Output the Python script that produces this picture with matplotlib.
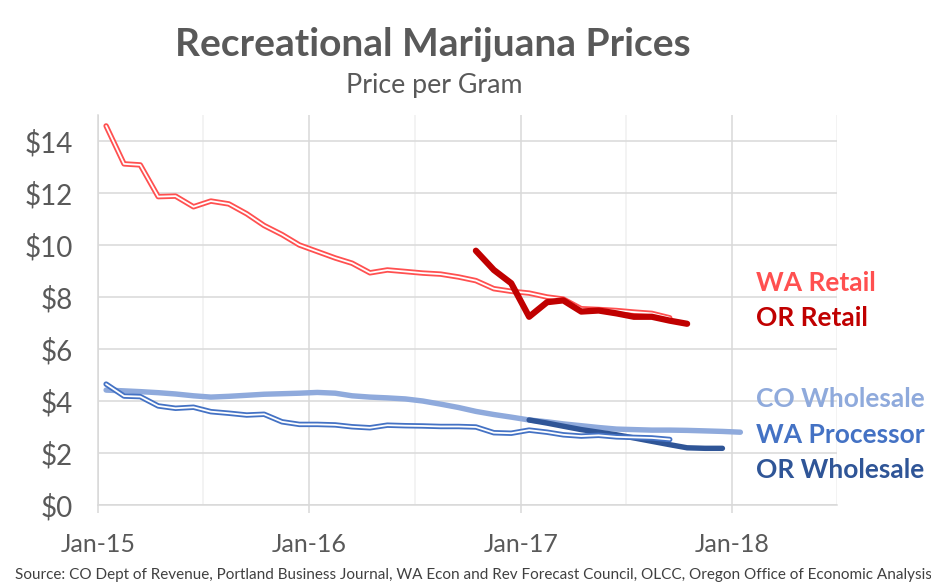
import matplotlib
matplotlib.use("Agg")
import matplotlib.pyplot as plt
import matplotlib.dates as mdates
import pandas as pd
import numpy as np

plt.rcParams['font.family'] = ['Lato', 'DejaVu Sans']

# ---------------- data ----------------
wa_retail_start = "2015-01"
wa_retail = [14.58, 13.12, 13.08, 11.86, 11.88, 11.47, 11.69, 11.58, 11.20, 10.75,
             10.40, 10.00, 9.75, 9.50, 9.30, 8.93, 9.04, 8.98, 8.92, 8.88,
             8.77, 8.63, 8.32, 8.22, 8.15, 8.00, 7.92, 7.55, 7.52, 7.48,
             7.42, 7.37, 7.20]

or_retail_start = "2016-10"
or_retail = [9.78, 9.04, 8.53, 7.24, 7.80, 7.87, 7.44, 7.48, 7.37, 7.24, 7.24, 7.09, 6.97]

co_wholesale_start = "2015-01"
co_wholesale = [4.42, 4.39, 4.36, 4.32, 4.27, 4.20, 4.15, 4.18, 4.22, 4.26,
                4.28, 4.30, 4.33, 4.30, 4.20, 4.15, 4.12, 4.08, 4.00, 3.88,
                3.75, 3.60, 3.48, 3.38, 3.27, 3.20, 3.12, 3.05, 2.98, 2.92,
                2.90, 2.88, 2.88, 2.87, 2.85, 2.83, 2.80]

wa_processor_start = "2015-01"
wa_processor = [4.65, 4.19, 4.17, 3.81, 3.72, 3.76, 3.59, 3.53, 3.46, 3.49,
                3.20, 3.10, 3.10, 3.08, 3.01, 2.97, 3.07, 3.05, 3.04, 3.02,
                3.02, 3.00, 2.78, 2.76, 2.88, 2.80, 2.70, 2.65, 2.68, 2.62,
                2.60, 2.58, 2.52]

or_wholesale_start = "2017-01"
or_wholesale = [3.27, 3.15, 3.03, 2.90, 2.80, 2.70, 2.58, 2.45, 2.32, 2.20, 2.18, 2.18]

series_labels = ["WA Retail", "OR Retail", "CO Wholesale", "WA Processor", "OR Wholesale"]
y_ticks = [0, 2, 4, 6, 8, 10, 12, 14]
title = "Recreational Marijuana Prices"
subtitle = "Price per Gram"
source = ("Source: CO Dept of Revenue, Portland Business Journal, WA Econ and Rev "
          "Forecast Council, OLCC, Oregon Office of Economic Analysis")


def dates_for(start, values):
    return pd.date_range(start + "-01", periods=len(values), freq="MS") + pd.Timedelta(days=14)

# ---------------- figure ----------------
W, H = 931, 586
fig = plt.figure(figsize=(W / 100, H / 100), dpi=100)
ax = fig.add_axes([98 / W, (H - 505) / H, (837 - 98) / W, (505 - 115) / H])

c_wa_ret = "#ff5050"
c_or_ret = "#c00000"
c_co = "#8faadc"
c_wa_proc = "#4472c4"
c_or_wh = "#2f5597"
grid_major = "#d9d9d9"
grid_minor = "#f0f0f0"
text_gray = "#595959"

def double_line(x, y, color, z):
    ax.plot(x, y, color=color, lw=3.9, solid_capstyle="round", solid_joinstyle="round", zorder=z)
    ax.plot(x, y, color="white", lw=1.3, solid_capstyle="round", solid_joinstyle="round", zorder=z + 0.1)

double_line(dates_for(wa_retail_start, wa_retail), wa_retail, c_wa_ret, 3)
ax.plot(dates_for(or_retail_start, or_retail), or_retail, color=c_or_ret, lw=4.5,
        solid_capstyle="round", solid_joinstyle="round", zorder=4)
ax.plot(dates_for(co_wholesale_start, co_wholesale), co_wholesale, color=c_co, lw=3.9,
        solid_capstyle="round", solid_joinstyle="round", zorder=3)
ax.plot(dates_for(or_wholesale_start, or_wholesale), or_wholesale, color=c_or_wh, lw=3.9,
        solid_capstyle="round", solid_joinstyle="round", zorder=4)
double_line(dates_for(wa_processor_start, wa_processor), wa_processor, c_wa_proc, 5)

ax.set_xlim(pd.Timestamp("2015-01-01"), pd.Timestamp("2018-07-01"))
ax.set_ylim(0, 15)
ax.set_yticks(y_ticks)
ax.set_yticklabels([f"${v}" for v in y_ticks])

ax.xaxis.set_major_locator(mdates.YearLocator())
ax.xaxis.set_major_formatter(mdates.DateFormatter("%b-%y"))
ax.xaxis.set_minor_locator(mdates.MonthLocator(bymonth=7))

ax.grid(True, which="major", axis="both", color=grid_major, lw=1.1, zorder=0)
ax.grid(True, which="minor", axis="x", color=grid_minor, lw=1.1, zorder=0)
ax.set_axisbelow(True)

for s in ["top", "right"]:
    ax.spines[s].set_visible(False)
for s in ["left", "bottom"]:
    ax.spines[s].set_color(grid_major)
    ax.spines[s].set_linewidth(1.1)

ax.tick_params(axis="x", which="major", length=6, color=grid_major, width=1.1,
               labelsize=18, labelcolor=text_gray, pad=14)
ax.tick_params(axis="x", which="minor", length=0)
ax.tick_params(axis="y", length=0, labelsize=20, labelcolor=text_gray, pad=18)

fig.text(433 / W, 1 - 44 / H, title, ha="center", va="center", fontsize=28,
         fontweight="bold", color=text_gray)
fig.text(434 / W, 1 - 85 / H, subtitle, ha="center", va="center", fontsize=19.3,
         color=text_gray)

label_colors = [c_wa_ret, c_or_ret, c_co, c_wa_proc, c_or_wh]
label_y = [283, 318, 399, 435, 470]
for lab, col, yy in zip(series_labels, label_colors, label_y):
    fig.text(756 / W, 1 - yy / H, lab, ha="left", va="center", fontsize=19,
             fontweight="bold", color=col)

fig.text(15 / W, 1 - 575 / H, source, ha="left", va="center", fontsize=10.95,
         color="#404040")

fig.savefig("out.png", dpi=100)
